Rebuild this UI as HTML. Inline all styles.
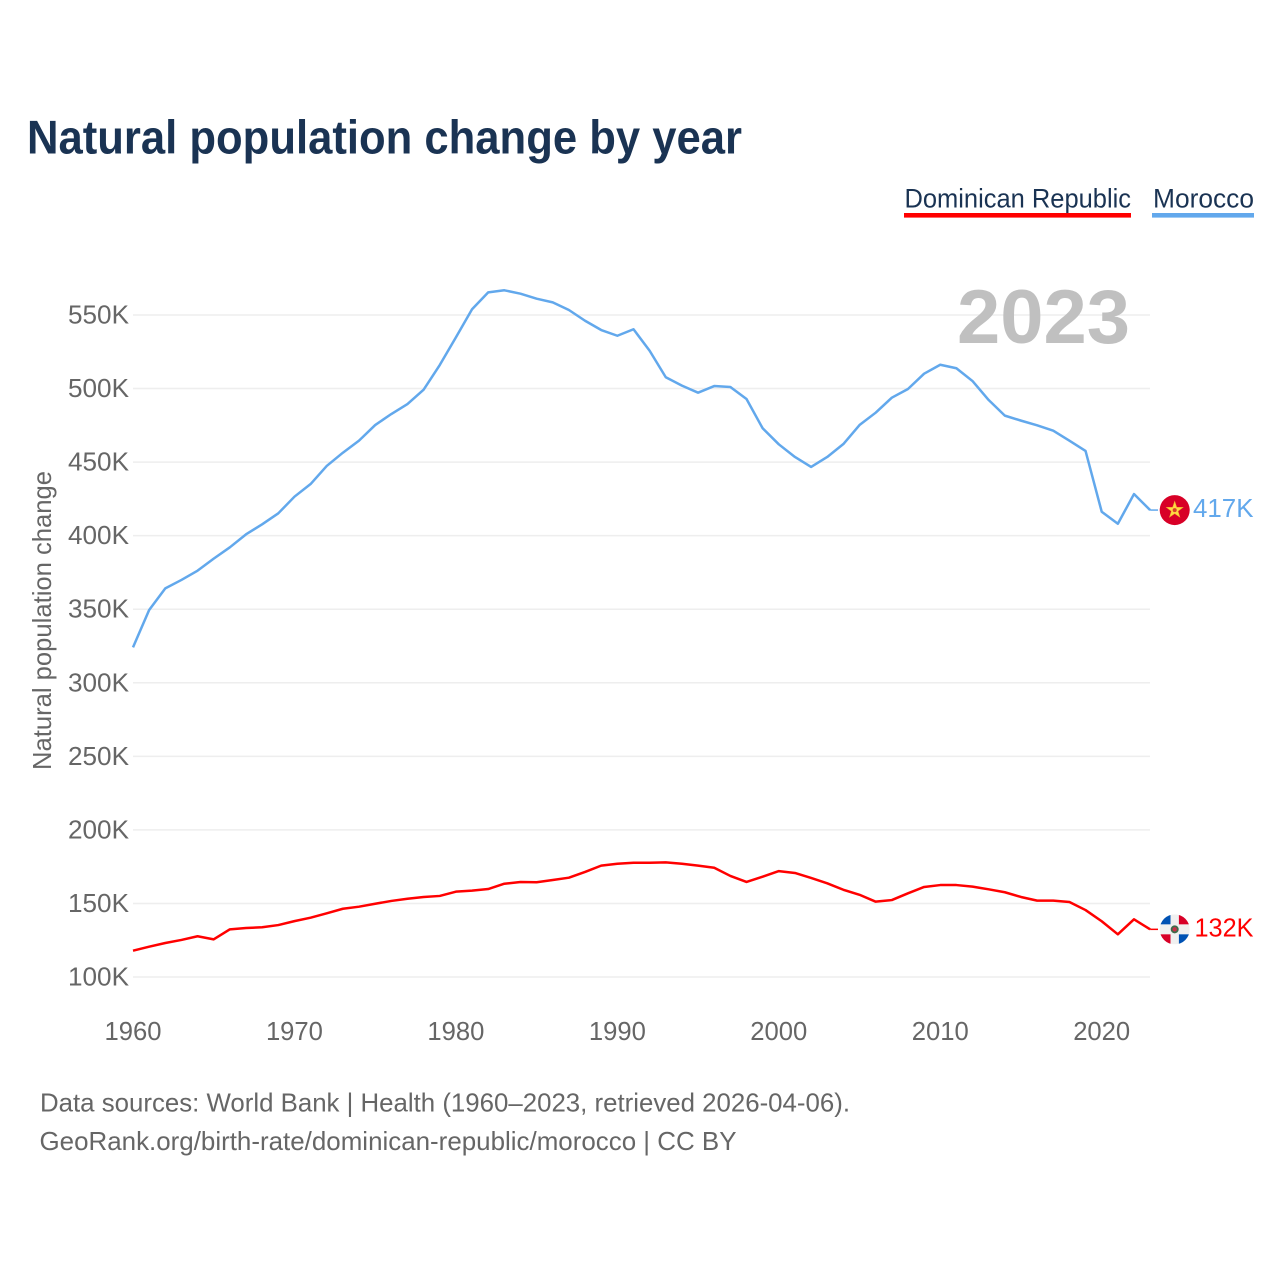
<!DOCTYPE html>
<html lang="en">
<head>
<meta charset="utf-8">
<title>Natural population change by year</title>
<style>
html,body{margin:0;padding:0;background:#fff;}
svg{display:block;}
text{font-family:"Liberation Sans",sans-serif;}
</style>
</head>
<body>
<svg id="chart" xmlns="http://www.w3.org/2000/svg" width="1280" height="1280" viewBox="0 0 1280 1280">
  <rect x="0" y="0" width="1280" height="1280" fill="#ffffff"/>
  <text x="27" y="153.5" font-size="47" font-weight="700" fill="#1a3353" textLength="715" lengthAdjust="spacingAndGlyphs">Natural population change by year</text>

  <g>
    <g>
      <text x="904.5" y="207.5" font-size="27" fill="#1a3353" textLength="226.5" lengthAdjust="spacingAndGlyphs">Dominican Republic</text>
      <rect x="904" y="213" width="227" height="4.6" fill="#ff0000"/>
    </g>
    <g>
      <text x="1153" y="207.5" font-size="27" fill="#1a3353" textLength="101" lengthAdjust="spacingAndGlyphs">Morocco</text>
      <rect x="1152" y="213" width="102" height="4.6" fill="#62a8ec"/>
    </g>
  </g>

  <g id="grid"></g>
  <g id="y-axis"></g>
  <g id="x-axis"></g>

  <text transform="translate(51 620.5) rotate(-90)" text-anchor="middle" font-size="26" fill="#666666" textLength="299" lengthAdjust="spacingAndGlyphs">Natural population change</text>

  <text x="957" y="343" font-size="76" font-weight="700" fill="#c0c0c0" textLength="173" lengthAdjust="spacingAndGlyphs">2023</text>

  <g id="series"></g>
  <g id="ends"></g>

  <text x="40" y="1111.5" font-size="26" fill="#666666" textLength="810" lengthAdjust="spacingAndGlyphs">Data sources: World Bank | Health (1960–2023, retrieved 2026-04-06).</text>
  <text x="39.5" y="1150" font-size="26" fill="#666666" textLength="697" lengthAdjust="spacingAndGlyphs">GeoRank.org/birth-rate/dominican-republic/morocco | CC BY</text>
</svg>
<script>
const startYear = 1960;
const yTicks = [100, 150, 200, 250, 300, 350, 400, 450, 500, 550];
const xTicks = [1960, 1970, 1980, 1990, 2000, 2010, 2020];
const moroccoValues = [
  324.1, 349.5, 364.2, 369.9, 376.2, 384.4, 392.1, 400.9, 407.7, 415.2,
  426.5, 435.1, 447.4, 456.4, 464.6, 475.2, 482.7, 489.5, 499.2, 516.0,
  534.8, 553.9, 565.4, 566.8, 564.5, 561.1, 558.6, 553.4, 546.1, 539.8,
  535.9, 540.3, 525.7, 507.7, 502.0, 497.2, 501.7, 501.1, 492.9, 473.0,
  462.1, 453.5, 446.7, 453.5, 462.3, 475.2, 483.6, 493.8, 499.7, 510.1,
  516.2, 513.8, 505.1, 492.2, 481.6, 478.2, 475.0, 471.4, 464.6, 457.6,
  416.3, 408.1, 428.3, 417.4
];
const dominicanValues = [
  117.9, 120.6, 123.1, 125.2, 127.7, 125.6, 132.4, 133.3, 133.8, 135.3,
  138.0, 140.3, 143.3, 146.4, 147.8, 149.8, 151.7, 153.2, 154.4, 155.1,
  158.0, 158.7, 159.8, 163.4, 164.6, 164.4, 165.9, 167.5, 171.4, 175.7,
  177.0, 177.7, 177.7, 177.9, 177.0, 175.7, 174.3, 168.7, 164.6, 168.2,
  172.0, 170.7, 167.3, 163.7, 159.3, 155.9, 151.2, 152.3, 156.9, 161.2,
  162.5, 162.5, 161.4, 159.6, 157.6, 154.4, 151.9, 151.9, 151.0, 145.5,
  137.9, 129.0, 139.2, 132.4
];

const SVGNS = 'http://www.w3.org/2000/svg';
const PLOT_LEFT = 133, PLOT_RIGHT = 1150, PLOT_STEP = 16.145;
const Y_BASE = 977, Y_SCALE = 1.4711;
function xScale(year) { return PLOT_LEFT + (year - startYear) * PLOT_STEP; }
function yScale(v) { return Y_BASE - (v - 100) * Y_SCALE; }
function make(tag, parent, attrs) {
  const el = document.createElementNS(SVGNS, tag);
  for (const k in attrs) el.setAttribute(k, attrs[k]);
  parent.appendChild(el);
  return el;
}

const grid = document.getElementById('grid');
const yAxis = document.getElementById('y-axis');
const xAxis = document.getElementById('x-axis');
yTicks.forEach(function (t) {
  const line = make('line', grid, { x1: PLOT_LEFT, x2: PLOT_RIGHT, y1: yScale(t), y2: yScale(t), stroke: '#eeeeee', 'stroke-width': 1.5 });
  
  
  const label = make('text', yAxis, { x: 129, y: yScale(t) + 8.5, 'text-anchor': 'end', 'font-size': 26, fill: '#666666', textLength: 61, lengthAdjust: 'spacingAndGlyphs' });
  
  
  label.textContent = t + 'K';
});
xTicks.forEach(function (yr) {
  const label = make('text', xAxis, { x: xScale(yr), y: 1040, 'text-anchor': 'middle', 'font-size': 26, fill: '#666666', textLength: 57, lengthAdjust: 'spacingAndGlyphs' });
  
  
  label.textContent = yr;
});

function linePath(values) {
  const pts = values.map(function (v, i) { return xScale(startYear + i).toFixed(2) + ',' + yScale(v).toFixed(2); });
  return 'M' + pts.join('L');
}
const seriesGroup = document.getElementById('series');
const ends = document.getElementById('ends');

const moroccoLine = make('path', seriesGroup, { d: linePath(moroccoValues), fill: 'none', stroke: '#62a8ec', 'stroke-width': 2.5, 'stroke-linejoin': 'round' });


const dominicanLine = make('path', seriesGroup, { d: linePath(dominicanValues), fill: 'none', stroke: '#ff0000', 'stroke-width': 2.5, 'stroke-linejoin': 'round' });



const FLAG_X = 1174.7;
const defs = make('defs', ends, {});

function endCap(values, color, labelX, width) {
  const y = yScale(values[values.length - 1]);
  make('line', ends, { x1: xScale(startYear + values.length - 1), x2: 1158, y1: y, y2: y, stroke: color, 'stroke-width': 1.5 });
  const label = make('text', ends, { x: labelX, y: y + 7, 'font-size': 26, fill: color, textLength: width, lengthAdjust: 'spacingAndGlyphs' });
  label.textContent = Math.floor(values[values.length - 1]) + 'K';
  return label;
}
const moroccoEnd = endCap(moroccoValues, '#62a8ec', 1193, 60.5);


const dominicanEnd = endCap(dominicanValues, '#ff0000', 1194.5, 59);



// Morocco flag
const maY = yScale(moroccoValues[moroccoValues.length - 1]);
const maFlag = make('g', ends, {});


make('circle', maFlag, { cx: FLAG_X, cy: maY, r: 15, fill: '#d80027' });
const starPts = [];
for (let i = 0; i < 10; i++) {
  const a = -Math.PI / 2 + i * Math.PI / 5;
  const r = i % 2 === 0 ? 8.6 : 3.4;
  starPts.push((FLAG_X + r * Math.cos(a)).toFixed(2) + ',' + (maY + r * Math.sin(a)).toFixed(2));
}
make('polygon', maFlag, { points: starPts.join(' '), fill: '#ffda44', stroke: '#f5b82e', 'stroke-width': 0.6 });
make('circle', maFlag, { cx: FLAG_X, cy: maY, r: 2, fill: '#d8402a' });

// Dominican Republic flag
const doY = yScale(dominicanValues[dominicanValues.length - 1]);
const clip = make('clipPath', defs, { id: 'do-clip' });
make('circle', clip, { cx: FLAG_X, cy: doY, r: 15 });
const doFlag = make('g', ends, { 'clip-path': 'url(#do-clip)' });


make('rect', doFlag, { x: FLAG_X - 15, y: doY - 15, width: 30, height: 30, fill: '#f0f0f0' });
make('rect', doFlag, { x: FLAG_X - 15, y: doY - 15, width: 10.8, height: 10, fill: '#0052b4' });
make('rect', doFlag, { x: FLAG_X + 4.2, y: doY - 15, width: 10.8, height: 10, fill: '#d80027' });
make('rect', doFlag, { x: FLAG_X - 15, y: doY + 5, width: 10.8, height: 10, fill: '#d80027' });
make('rect', doFlag, { x: FLAG_X + 4.2, y: doY + 5, width: 10.8, height: 10, fill: '#0052b4' });
make('circle', doFlag, { cx: FLAG_X, cy: doY, r: 4, fill: '#3f6b4a' });
make('circle', doFlag, { cx: FLAG_X, cy: doY, r: 2.2, fill: '#c8324a' });
</script>
</body>
</html>
